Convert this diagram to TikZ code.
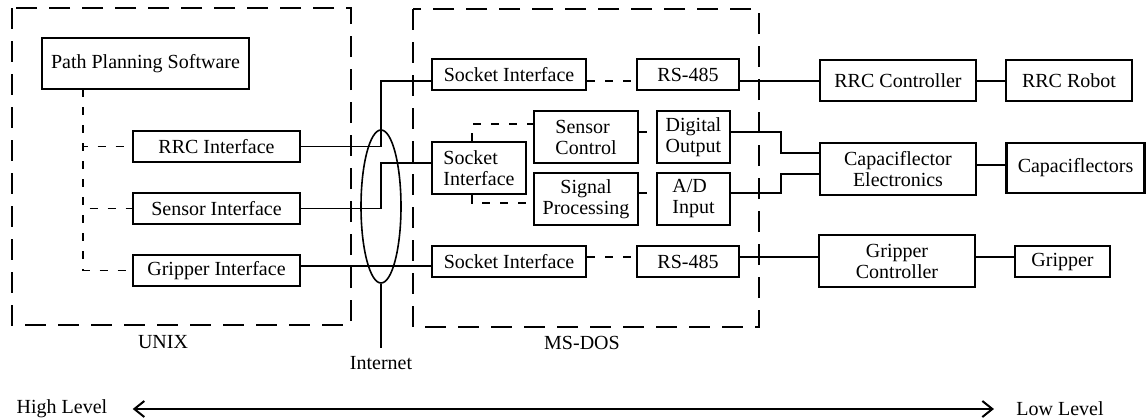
\documentclass[tikz,border=0pt]{standalone}
\usepackage{fontspec}
\setmainfont{Liberation Serif}
\usetikzlibrary{arrows.meta,shapes.geometric}
\tikzset{every picture/.style={line width=0.8pt}}
\tikzset{
  blk/.style={draw, line width=1.1pt, inner sep=0pt, font=\fontsize{10}{10.5}\selectfont},
  dln/.style={dash pattern=on 4pt off 5pt},
  grp/.style={dash pattern=on 10.5pt off 6pt},
  lbl/.style={font=\fontsize{10}{12}\selectfont},
  harr/.style={{Straight Barb[length=5pt,width=8pt]}-{Straight Barb[length=5pt,width=8pt]}, line width=1pt},
}

\begin{document}
\begin{tikzpicture}[x=0.5pt,y=-0.5pt]
    \useasboundingbox (0,0) rectangle (1146,419);

    % UNIX and MS-DOS groups
    \draw[grp] (12,8) rectangle (351,325);
    \draw[grp] (413,9) rectangle (759,327);
    \node[lbl] (unix) at (163,342) {UNIX};
    \node[lbl] (msdos) at (582,343) {MS-DOS};

    % row heights of the connectors
    \coordinate (rowa) at (0,81);
    \coordinate (rowb) at (0,163);
    \coordinate (rowc) at (0,266);
    \coordinate (rowd) at (0,124);
    \coordinate (rowe) at (0,203);
    \coordinate (rowf) at (0,132);
    \coordinate (rowg) at (0,193);
    \coordinate (rowh) at (0,257);
    \coordinate (rowi) at (0,165);

    % UNIX side
    \node[blk, minimum width=103.5pt, minimum height=25.5pt] (pps) at (145.5,63.5) {Path Planning Software};
    \node[blk, minimum width=83.5pt, minimum height=15.5pt] (rrci) at (216.5,146.5) {RRC Interface};
    \node[blk, minimum width=83.5pt, minimum height=15.5pt] (seni) at (216.5,208.5) {Sensor Interface};
    \node[blk, minimum width=83.5pt, minimum height=15.5pt] (gripi) at (216.5,270.5) {Gripper Interface};
    \coordinate (tap) at (83,89);
    \draw[dln] (tap) |- (gripi.west);
    \draw[dln] (tap) |- (rrci.west);
    \draw[dln] (tap) |- (seni.west);

    % Internet
    \node[draw, ellipse, inner sep=0pt, minimum width=20pt, minimum height=76.5pt] (net) at (381,206.5) {};
    \coordinate (netend) at (381,348);
    \draw (net.south) -- (netend);
    \node[lbl] (inet) at (381,363) {Internet};

    % MS-DOS side
    \node[blk, minimum width=77pt, minimum height=15.5pt] (sock1) at (509,74.5) {Socket Interface};
    \node[blk, minimum width=47pt, minimum height=26pt, align=left] (sock2) at (479,168) {Socket\\Interface};
    \node[blk, minimum width=77pt, minimum height=15.5pt] (sock3) at (509,261.5) {Socket Interface};
    \node[blk, minimum width=51pt, minimum height=15.5pt] (rs1) at (688,74.5) {RS-485};
    \node[blk, minimum width=51pt, minimum height=15.5pt] (rs2) at (688,261.5) {RS-485};
    \node[blk, minimum width=52pt, minimum height=26pt, align=left] (senc) at (586,137) {Sensor\\Control};
    \node[blk, minimum width=52pt, minimum height=26pt, align=center] (sigp) at (586,199) {Signal\\Processing};
    \node[blk, minimum width=36.5pt, minimum height=26pt, align=left] (digo) at (693.5,137) {Digital\\Output};
    \node[blk, minimum width=36.5pt, minimum height=26pt, align=left] (adin) at (693.5,199) {A/D\\Input};

    % hardware
    \node[blk, minimum width=78pt, minimum height=20.5pt] (rrcc) at (898,80.5) {RRC Controller};
    \node[blk, minimum width=63pt, minimum height=20.5pt] (rrcr) at (1069,80.5) {RRC Robot};
    \node[blk, minimum width=78pt, minimum height=26pt, align=center] (cape) at (898,169) {Capaciflector\\Electronics};
    \node[blk, minimum width=69pt, minimum height=25pt] (caps) at (1075.5,168) {Capaciflectors};
    \node[blk, minimum width=78pt, minimum height=26pt, align=center] (gripc) at (897,261) {Gripper\\Controller};
    \node[blk, minimum width=47.5pt, minimum height=15.5pt] (grip) at (1062.5,261.5) {Gripper};

    % links across the Internet
    \draw (rrci.east) -| (net.north |- rowa) -- (sock1.west |- rowa);
    \draw (seni.east) -| (net.north |- rowb) -- (sock2.west |- rowb);
    \draw (gripi.east |- rowc) -- (sock3.west |- rowc);

    % links inside MS-DOS
    \draw[dln] (sock1.east |- rowa) -- (rs1.west |- rowa);
    \draw[dln] (sock3.east |- rowh) -- (rs2.west |- rowh);
    \draw[dln] ([xshift=-3.5pt]sock2.north) |- (senc.west |- rowd);
    \draw[dln] ([xshift=-3.5pt]sock2.south) |- (sigp.west |- rowe);
    \draw[dln] (senc.east |- rowf) -- (digo.west |- rowf);
    \draw[dln] (sigp.east |- rowg) -- (adin.west |- rowg);

    % links to the hardware
    \draw (rs1.east |- rowa) -- (rrcc.west |- rowa);
    \draw (rrcc.east |- rowa) -- (rrcr.west |- rowa);
    \draw (digo.east |- rowf) -- ++(25pt,0) |- ([yshift=8pt]cape.west);
    \draw (adin.east |- rowg) -- ++(25pt,0) |- ([yshift=-2.5pt]cape.west);
    \draw (cape.east |- rowi) -- (caps.west |- rowi);
    \draw (rs2.east |- rowh) -- (gripc.west |- rowh);
    \draw (gripc.east |- rowh) -- (grip.west |- rowh);

    % level axis
    \node[lbl] (high) at (62,409) {High Level};
    \node[lbl] (low) at (1060,409) {Low Level};
    \draw[harr] ([xshift=9pt]high.east) -- ([xshift=-7.5pt]low.west);
\end{tikzpicture}
\end{document}
